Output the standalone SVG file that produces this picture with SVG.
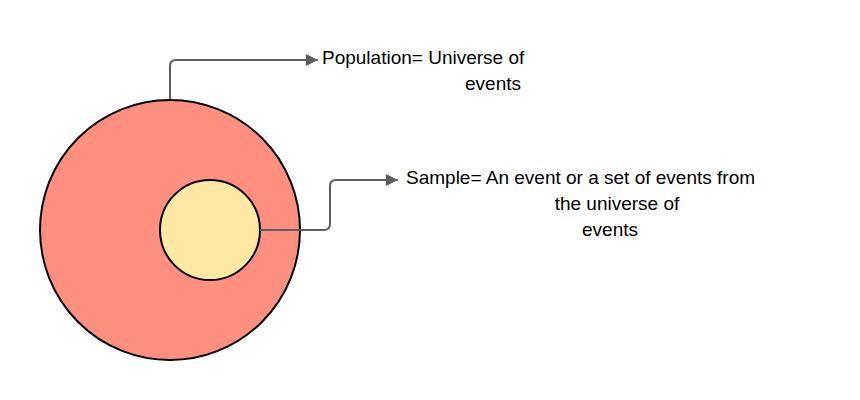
<svg xmlns="http://www.w3.org/2000/svg" width="860" height="400" viewBox="0 0 860 400">
<style>
.t{font-family:"Liberation Sans",Arial,sans-serif;font-size:19px;fill:#000}
.c{fill:none;stroke:#5e5e5e;stroke-width:2}
</style>
<defs><marker id="a" markerWidth="10" markerHeight="10" refX="9" refY="5" orient="auto" markerUnits="userSpaceOnUse"><path d="M0,0 L10,5 L0,10 Z" fill="#5e5e5e"/></marker>
<marker id="b" viewBox="0 0 10 10" markerWidth="14" markerHeight="12" refX="10" refY="5" orient="auto" markerUnits="userSpaceOnUse"><path d="M0,0 L10,5 L0,10 Z" fill="#5e5e5e"/></marker></defs>
<g id="population"><circle cx="170" cy="230" r="130" fill="#ff8f80" stroke="#000" stroke-width="2"/></g>
<g id="sample"><circle cx="210" cy="230" r="50" fill="#ffe8a3" stroke="#000" stroke-width="2"/></g>
<g id="connectors">
<path class="c" d="M170,99 V66 Q170,60 176,60 H318" marker-end="url(#b)"/>
<path class="c" d="M260,230 H324 Q330,230 330,224 V186 Q330,180 336,180 H398" marker-end="url(#b)"/>
</g>
<g id="label-population">
<text class="t" x="322" y="64">Population= Universe of</text>
<text class="t" x="493" y="90" text-anchor="middle">events</text>
</g>
<g id="label-sample">
<text class="t" x="406" y="184">Sample= An event or a set of events from</text>
<text class="t" x="617" y="210" text-anchor="middle">the universe of</text>
<text class="t" x="610" y="236" text-anchor="middle">events</text>
</g>
</svg>
